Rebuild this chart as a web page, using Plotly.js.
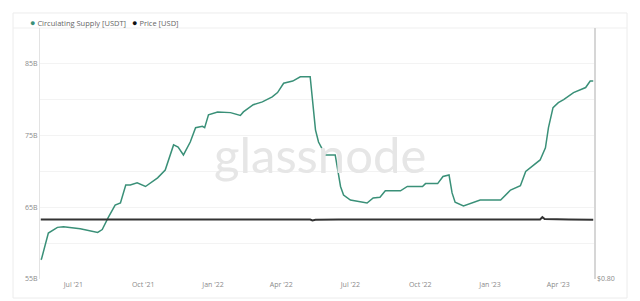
<!DOCTYPE html>
<html><head><meta charset="utf-8">
<script src="https://cdn.plot.ly/plotly-3.0.1.min.js"></script>
<style>html,body{margin:0;padding:0;background:#fff;}#chart{width:640px;height:301px;}</style>
</head><body><div id="chart"></div>
<script>
// Circulating supply of USDT, billions
const supplyDates = ["2021-05-19","2021-05-20","2021-05-29","2021-06-10","2021-06-18","2021-07-10","2021-08-02","2021-08-08","2021-08-16","2021-08-25","2021-09-01","2021-09-08","2021-09-14","2021-09-23","2021-10-04","2021-10-20","2021-10-30","2021-11-10","2021-11-16","2021-11-23","2021-12-02","2021-12-09","2021-12-18","2021-12-21","2021-12-26","2022-01-07","2022-01-24","2022-02-06","2022-02-10","2022-02-23","2022-03-07","2022-03-20","2022-03-27","2022-04-04","2022-04-16","2022-04-26","2022-05-09","2022-05-12","2022-05-16","2022-05-20","2022-05-25","2022-05-29","2022-06-11","2022-06-14","2022-06-18","2022-06-22","2022-07-01","2022-07-23","2022-07-31","2022-08-09","2022-08-16","2022-09-05","2022-09-14","2022-10-04","2022-10-08","2022-10-24","2022-10-31","2022-11-08","2022-11-12","2022-11-16","2022-11-27","2022-12-19","2023-01-15","2023-01-28","2023-02-10","2023-02-17","2023-03-08","2023-03-15","2023-03-19","2023-03-25","2023-04-01","2023-04-08","2023-04-21","2023-05-07","2023-05-13","2023-05-17"];
const supplyValues = [57.7,57.8,61.4,62.2,62.3,62.0,61.5,61.9,63.6,65.3,65.6,68.1,68.1,68.4,67.9,69.1,70.2,73.7,73.4,72.3,74.1,76.1,76.3,76.1,77.9,78.3,78.2,77.8,78.3,79.3,79.7,80.4,81.0,82.3,82.6,83.2,83.2,80.3,75.8,74.1,73.0,72.3,72.3,70.6,67.9,66.7,66.0,65.6,66.3,66.4,67.3,67.3,67.9,67.9,68.3,68.3,69.3,69.5,67.0,65.7,65.2,66.0,66.0,67.4,68.0,70.0,71.6,73.3,76.1,78.9,79.6,80.0,81.0,81.7,82.6,82.6];

// USDT price, USD
const priceDates = ["2021-05-19","2021-06-15","2021-07-15","2021-08-15","2021-09-15","2021-10-15","2021-11-15","2021-12-15","2022-01-15","2022-02-15","2022-03-15","2022-04-15","2022-05-09","2022-05-12","2022-05-16","2022-06-15","2022-07-15","2022-08-15","2022-09-15","2022-10-15","2022-11-10","2022-11-13","2022-11-18","2022-12-15","2023-01-15","2023-02-15","2023-03-08","2023-03-11","2023-03-14","2023-04-15","2023-05-17"];
const priceValues = [1.000,1.000,1.000,1.001,1.000,1.000,1.001,1.000,1.000,1.000,1.001,1.000,1.000,0.997,0.999,1.000,1.000,1.000,1.000,1.000,1.000,0.998,0.999,1.000,1.000,1.000,1.000,1.008,1.002,1.000,0.999];

const yTickVals = [55,60,65,70,75,80,85,90];
const yTickText = ["55B","","65B","","75B","","85B",""];
const legendLabels = ["Circulating Supply [USDT]","Price [USD]"];

const green = "#3a9078";
const dark = "#333333";

const traces = [
  {x: supplyDates, y: supplyValues, type: "scatter", mode: "lines", line: {color: green, width: 1.5}, yaxis: "y", name: legendLabels[0], showlegend: false},
  {x: priceDates, y: priceValues, type: "scatter", mode: "lines", line: {color: dark, width: 2}, yaxis: "y2", name: legendLabels[1], showlegend: false}
];

const layout = {
  width: 640, height: 301,
  margin: {l: 40, r: 46, t: 28, b: 22},
  paper_bgcolor: "#ffffff", plot_bgcolor: "#ffffff",
  font: {family: "Open Sans, sans-serif", size: 7, color: "#8a8a8a"},
  xaxis: {
    type: "date", range: ["2021-05-18", "2023-05-18"],
    tickformat: "%b '%y", dtick: "M3", tick0: "2021-01-01",
    showgrid: false, zeroline: false, showline: false, ticks: "",
    tickfont: {size: 7, color: "#8a8a8a"}
  },
  yaxis: {
    range: [55, 90], tickvals: yTickVals, ticktext: yTickText,
    gridcolor: "#f3f3f3", gridwidth: 1, zeroline: false,
    showline: true, linecolor: "#e3e3e3", linewidth: 1, ticks: "",
    tickfont: {size: 7, color: "#8a8a8a"}
  },
  yaxis2: {
    overlaying: "y", side: "right", range: [0.8, 1.644],
    tickvals: [0.8], ticktext: ["$0.80"], showgrid: false, zeroline: false,
    showline: true, linecolor: "#d6d6d6", linewidth: 1.5, ticks: "",
    tickfont: {size: 7, color: "#8a8a8a"}
  },
  shapes: [
    {type: "rect", xref: "paper", yref: "paper", x0: -0.0487, x1: 1.0596, y0: -0.0757, y1: 1.0598,
     line: {color: "#ececec", width: 1}, fillcolor: "rgba(0,0,0,0)", layer: "below"},
    {type: "line", xref: "paper", yref: "paper", x0: -0.0487, x1: 1.0596, y0: 1.0, y1: 1.0,
     line: {color: "#efefef", width: 1}, layer: "below"}
  ],
  annotations: [
    {text: "glassnode", xref: "paper", yref: "paper", x: 0.505, y: 0.5, showarrow: false,
     font: {family: "Lato, Open Sans, sans-serif", size: 49, color: "#e6e6e6"}},
    {text: '<span style="color:' + green + ';font-size:9px">●</span> ' + legendLabels[0], xref: "paper", yref: "paper",
     x: -0.022, y: 1.02, xanchor: "left", yanchor: "middle", showarrow: false,
     font: {size: 7.5, color: "#666666"}},
    {text: '<span style="color:#111111;font-size:9px">●</span> ' + legendLabels[1], xref: "paper", yref: "paper",
     x: 0.163, y: 1.02, xanchor: "left", yanchor: "middle", showarrow: false,
     font: {size: 7.5, color: "#666666"}}
  ]
};

Plotly.newPlot("chart", traces, layout, {displayModeBar: false, staticPlot: true});
</script>
</body></html>
